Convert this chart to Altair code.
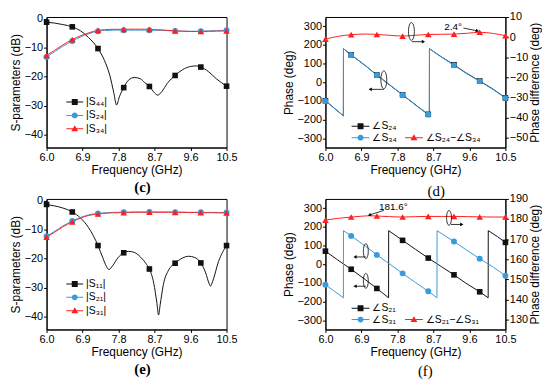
import math
import altair as alt
import pandas as pd

# ---------------- data ----------------
MARKER_FREQS = [6.0, 6.643, 7.286, 7.929, 8.571, 9.214, 9.857, 10.5]
X_TICKS = [6.0, 6.9, 7.8, 8.7, 9.6, 10.5]
DB_TICKS = [0, -10, -20, -30, -40]
PH_TICKS = [-300, -200, -100, 0, 100, 200, 300]
D_DIFF_TICKS = [10, 0, -10, -20, -30, -40, -50]
F_DIFF_TICKS = [190, 180, 170, 160, 150, 140, 130]

# panel (c)
C_NAMES = ["|S₄₄|", "|S₂₄|", "|S₃₄|"]
C_FREQ = [6.0, 6.2, 6.4, 6.643, 6.85, 7.05, 7.286, 7.45, 7.58, 7.68,
          7.75, 7.82, 7.929, 8.05, 8.2, 8.35, 8.45, 8.571, 8.7, 8.78,
          8.88, 9.02, 9.214, 9.4, 9.6, 9.75, 9.857, 10.05, 10.25, 10.5]
C_S44 = [-1.2, -1.5, -2.0, -2.8, -4.2, -6.5, -10.3, -14.5, -19.5, -25.5,
         -29.8, -27.0, -23.8, -21.2, -20.3, -20.8, -22.0, -23.4, -25.6, -26.4,
         -25.2, -22.3, -19.6, -17.6, -16.5, -16.3, -16.7, -18.3, -20.8, -23.3]
C_S24 = [-13.2, -11.4, -9.6, -7.7, -6.3, -5.2, -4.3, -4.05, -4.0, -3.95,
         -3.95, -3.95, -3.95, -3.95, -3.95, -3.95, -3.95, -3.95, -4.0, -4.0,
         -4.05, -4.1, -4.2, -4.3, -4.35, -4.35, -4.3, -4.2, -4.1, -4.0]
C_S34 = [-12.7, -10.9, -9.1, -7.2, -5.9, -4.9, -4.0, -3.8, -3.7, -3.65,
         -3.65, -3.65, -3.65, -3.6, -3.6, -3.6, -3.6, -3.7, -3.75, -3.8,
         -3.85, -4.0, -4.2, -4.3, -4.4, -4.4, -4.4, -4.35, -4.3, -4.2]

# panel (e)
E_NAMES = ["|S₁₁|", "|S₂₁|", "|S₃₁|"]
E_FREQ = [6.0, 6.2, 6.4, 6.643, 6.85, 7.05, 7.286, 7.4, 7.5, 7.56,
          7.65, 7.78, 7.929, 8.05, 8.2, 8.35, 8.5, 8.571, 8.68, 8.76,
          8.8, 8.84, 8.92, 9.05, 9.214, 9.4, 9.55, 9.7, 9.857, 9.98,
          10.06, 10.1, 10.15, 10.3, 10.5]
E_S11 = [-1.3, -1.8, -2.5, -3.9, -6.0, -9.3, -15.5, -19.5, -22.8, -23.8,
         -22.5, -19.8, -18.0, -17.5, -17.9, -19.5, -22.0, -23.6, -28.5, -35.5,
         -39.5, -36.0, -29.0, -24.0, -21.6, -19.8, -19.2, -19.6, -21.5, -25.0,
         -28.5, -29.5, -28.0, -21.0, -15.5]
E_S21 = [-12.3, -10.6, -8.8, -7.0, -5.8, -4.9, -4.4, -4.25, -4.15, -4.1,
         -4.05, -4.0, -3.95, -3.95, -3.9, -3.9, -3.9, -3.9, -3.9, -3.9,
         -3.9, -3.9, -3.9, -3.9, -3.95, -3.95, -4.0, -4.0, -4.0, -4.05,
         -4.05, -4.05, -4.05, -4.1, -4.1]
E_S31 = [-12.6, -10.9, -9.1, -7.3, -6.0, -5.1, -4.6, -4.4, -4.3, -4.25,
         -4.2, -4.15, -4.1, -4.05, -4.0, -4.0, -4.0, -4.0, -4.0, -4.0,
         -4.0, -4.0, -4.0, -4.0, -4.05, -4.05, -4.1, -4.1, -4.1, -4.15,
         -4.15, -4.15, -4.15, -4.2, -4.2]

# panel (d)
D_NAMES = ["∠S₂₄", "∠S₃₄"]
D_DIFF_NAME = ["∠S₂₄−∠S₃₄"]
D_PH_FREQ = [6.0, 6.2, 6.449, 6.451, 6.643, 7.0, 7.286, 7.6, 7.929, 8.3,
             8.571, 8.599, 8.601, 8.9, 9.214, 9.5, 9.857, 10.2, 10.5]
D_S24 = [-99, -135, -180, 180, 147, 89, 39, -13, -67, -129,
         -172, -180, 180, 136, 94, 52, 7, -38, -84]
D_S34 = [-100, -136, -180, 180, 146, 88, 38, -14, -68, -130,
         -173, -180, 180, 135, 92, 50, 5, -40, -85]
D_DIFF_FREQ = [6.0, 6.3, 6.643, 7.0, 7.286, 7.6, 7.929, 8.25, 8.571, 8.9,
               9.214, 9.55, 9.857, 10.2, 10.5]
D_DIFF = [-1.0, 0.3, 1.2, 1.5, 1.3, 0.9, 0.5, 0.9, 1.3, 1.4,
          1.5, 1.9, 2.4, 1.8, 0.7]

# panel (f)
F_NAMES = ["∠S₂₁", "∠S₃₁"]
F_DIFF_NAME = ["∠S₂₁−∠S₃₁"]
F_S21_FREQ = [6.0, 6.3, 6.643, 7.0, 7.286, 7.579, 7.581, 7.929, 8.25, 8.571,
              8.9, 9.214, 9.5, 9.857, 10.069, 10.071, 10.3, 10.5]
F_S21 = [70, 24, -27, -83, -130, -180, 180, 128, 80, 33,
         -13, -57, -100, -148, -180, 180, 148, 117]
F_S31_FREQ = [6.0, 6.2, 6.449, 6.451, 6.643, 7.0, 7.286, 7.6, 7.929, 8.25,
              8.571, 8.789, 8.791, 9.0, 9.214, 9.5, 9.857, 10.2, 10.5]
F_S31 = [-110, -141, -180, 180, 152, 97, 50, 2, -49, -98,
         -145, -180, 180, 151, 122, 80, 30, -16, -62]
F_DIFF_FREQ = [6.0, 6.3, 6.643, 6.9, 7.1, 7.286, 7.6, 7.929, 8.25, 8.571,
               8.9, 9.214, 9.55, 9.857, 10.2, 10.5]
F_DIFF = [179.5, 180.3, 181.0, 181.4, 181.6, 181.5, 181.2, 181.0, 181.2, 181.3,
          181.3, 181.3, 181.2, 181.1, 181.0, 181.0]

# annotations (data units of each panel)
D_ELL_LEFT = {"f": [7.46], "y": [13]}
D_ELL_RIGHT = {"f": [8.15], "y": [2.8]}
D_ARROW_LEFT = [{"f": 7.46, "y": -38, "f2": 7.12, "y2": -38}]
D_ARROW_RIGHT = [{"f": 8.16, "y": -2.3, "f2": 8.45, "y2": -2.3},
                 {"f": 9.45, "y": 4.5, "f2": 9.80, "y2": 3.1}]
D_TEXT = {"f": [9.19], "y": [4.8], "text": ["2.4°"]}

F_ELL_LEFT = {"f": [7.01, 7.01], "y": [70, -89]}
F_ELL_RIGHT = {"f": [9.09], "y": [180.6]}
F_ARROW_LEFT = [{"f": 7.01, "y": 39, "f2": 6.74, "y2": 39},
                {"f": 7.01, "y": -118, "f2": 6.74, "y2": -118}]
F_ARROW_RIGHT = [{"f": 9.14, "y": 177.3, "f2": 9.41, "y2": 177.3},
                 {"f": 7.46, "y": 184.3, "f2": 7.10, "y2": 182.0}]
F_TEXT = {"f": [7.70], "y": [185.8], "text": ["181.6°"]}

# ---------------- styles ----------------
FONT = "Liberation Sans"
SERIF = "Liberation Serif"
BLACK = "#111111"
BLUE = "#3b9ad9"
RED = "#ff1f1f"
W, H = 182, 132
ELLIPSE = "M0,-1A0.33,1 0 1,1 0,1A0.33,1 0 1,1 0,-1Z"


def mk_df(freq, vals, name):
    d = pd.DataFrame({"f": freq, "y": vals, "s": name})
    d["mk"] = [any(abs(v - m) < 1e-6 for m in MARKER_FREQS) for v in freq]
    return d


def X():
    return alt.X("f:Q", scale=alt.Scale(domain=[6.0, 10.5], nice=False, zero=False),
                 axis=alt.Axis(values=X_TICKS, format=".1f", title="Frequency (GHz)"))


def Y(domain, axis):
    return alt.Y("y:Q", scale=alt.Scale(domain=domain, nice=False, zero=False), axis=axis)


def sym_path(kind, size, half_len_px, marker_px, lw_px=1.0):
    u = math.sqrt(size) / 2
    L = half_len_px / u
    t = lw_px / 2 / u
    m = marker_px / 2 / u
    f = lambda v: f"{v:.3f}"
    p = f"M{f(-L)},{f(-t)}H{f(L)}V{f(t)}H{f(-L)}Z"
    if kind == "square":
        p += f"M{f(-m)},{f(-m)}H{f(m)}V{f(m)}H{f(-m)}Z"
    elif kind == "circle":
        p += f"M{f(-m)},0A{f(m)},{f(m)} 0 1,1 {f(m)},0A{f(m)},{f(m)} 0 1,1 {f(-m)},0Z"
    else:
        p += f"M0,{f(-1.15 * m)}L{f(1.15 * m)},{f(0.85 * m)}H{f(-1.15 * m)}Z"
    return p


MSIZE = {"square": 32, "circle": 36, "triangle-up": 44}
PKIND = {"square": "square", "circle": "circle", "triangle-up": "triangle"}


def series_layers(dfs, colors, shapes, yenc, interp):
    lines = [alt.Chart(d).mark_line(color=c, strokeWidth=1.0, interpolate=interp)
             .encode(x=X(), y=yenc) for d, c in zip(dfs, colors)]
    marks = [alt.Chart(d[d["mk"]]).mark_point(shape=s, filled=True, color=c,
                                                size=MSIZE[s], opacity=1)
             .encode(x=X(), y=yenc) for d, c, s in zip(dfs, colors, shapes)]
    return lines, marks


def legend_layer(dfs, names, colors, shapes, yenc, lx, ly, size, half_len, rowpad):
    paths = [sym_path(PKIND[s], size, half_len, 6.0) for s in shapes]
    loff = max(half_len - math.sqrt(size) / 2, 0) + 3
    leg = alt.Legend(title=None, orient="none", legendX=lx, legendY=ly,
                     direction="vertical", symbolSize=size, rowPadding=rowpad,
                     labelOffset=loff, labelFont=FONT, labelFontSize=10.5,
                     labelColor="black", symbolStrokeWidth=0, symbolOpacity=1,
                     padding=0)
    d = pd.concat([x[x["mk"]] for x in dfs])
    return alt.Chart(d).mark_point(filled=True, opacity=0).encode(
        x=X(), y=yenc,
        color=alt.Color("s:N", scale=alt.Scale(domain=names, range=colors), legend=leg),
        shape=alt.Shape("s:N", scale=alt.Scale(domain=names, range=paths), legend=leg))


HEAD = {True: "triangle-right", False: "triangle-left"}


def ann_layers(ell, arrows, txt, yenc, ell_size):
    out = []
    if ell:
        out.append(alt.Chart(pd.DataFrame(ell)).mark_point(
            shape=ELLIPSE, size=ell_size, filled=False, color="black",
            strokeWidth=0.8, opacity=1).encode(x=X(), y=yenc))
    for a in arrows:
        seg = pd.DataFrame({"f": [a["f"]], "y": [a["y"]], "f2": [a["f2"]], "y2": [a["y2"]]})
        tip = pd.DataFrame({"f": [a["f2"]], "y": [a["y2"]]})
        right = a["f2"] > a["f"]
        ang = 0
        if a["y2"] != a["y"]:
            ang = 15 if right else 337
        out.append(alt.Chart(seg).mark_rule(color="black", strokeWidth=0.8)
                   .encode(x=X(), x2=alt.X2("f2"), y=yenc, y2=alt.Y2("y2")))
        out.append(alt.Chart(tip).mark_point(shape=HEAD[right], filled=True, color="black",
                                             size=14, opacity=1, angle=ang)
                   .encode(x=X(), y=yenc))
    if txt:
        out.append(alt.Chart(pd.DataFrame(txt)).mark_text(
            font=FONT, fontSize=10, color="black", align="center", baseline="middle")
            .encode(x=X(), y=yenc, text="text:N"))
    return out


def caption(text, bold, offset, dx):
    return alt.TitleParams(text=text, orient="bottom", anchor="middle", font=SERIF,
                           fontSize=15, fontWeight="bold" if bold else "normal",
                           color="black", offset=offset, dx=dx)


def s_panel(freq, vals, names, title):
    yenc = Y([-44.5, 0.6], alt.Axis(values=DB_TICKS, title="S-parameters (dB)"))
    colors = [BLACK, BLUE, RED]
    shapes = ["square", "circle", "triangle-up"]
    dfs = [mk_df(freq, v, n) for v, n in zip(vals, names)]
    lines, marks = series_layers(dfs, colors, shapes, yenc, "monotone")
    leg = legend_layer(dfs, names, colors, shapes, yenc, 21.5, H - 53, 196, 8.5, 0.5)
    return alt.layer(*lines, *marks, leg).properties(width=W, height=H, title=title)


def dual_panel(ph, names, diff, diff_name, rdomain, rticks, annL, annR, ell_size, title):
    yL = Y([-350, 350], alt.Axis(values=PH_TICKS, title="Phase (deg)", orient="left"))
    yR = Y(rdomain, alt.Axis(values=rticks, title="Phase difference (deg)",
                             orient="right", titleAngle=270, titleBaseline="top"))
    dfsL = [mk_df(fq, v, n) for (fq, v), n in zip(ph, names)]
    linesL, marksL = series_layers(dfsL, [BLACK, BLUE], ["square", "circle"], yL, "linear")
    legL = legend_layer(dfsL, names, [BLACK, BLUE], ["square", "circle"], yL,
                        30, H - 27, 121, 9, 0.5)
    dfR = [mk_df(diff[0], diff[1], diff_name[0])]
    linesR, marksR = series_layers(dfR, [RED], ["triangle-up"], yR, "monotone")
    legR = legend_layer(dfR, diff_name, [RED], ["triangle-up"], yR,
                        84, H - 15.5, 121, 9, 0.5)
    left = alt.layer(*linesL, *marksL, *ann_layers(*annL, yL, ell_size), legL)
    right = alt.layer(*linesR, *marksR, *ann_layers(*annR, yR, ell_size), legR)
    return (alt.layer(left, right)
            .resolve_scale(y="independent", color="independent", shape="independent")
            .properties(width=W, height=H, title=title))


c = s_panel(C_FREQ, [C_S44, C_S24, C_S34], C_NAMES, caption("(c)", True, 5, 6))
e = s_panel(E_FREQ, [E_S11, E_S21, E_S31], E_NAMES, caption("(e)", True, 5, 6))
d = dual_panel([(D_PH_FREQ, D_S24), (D_PH_FREQ, D_S34)], D_NAMES,
               (D_DIFF_FREQ, D_DIFF), D_DIFF_NAME, [-55, 10], D_DIFF_TICKS,
               (D_ELL_LEFT, D_ARROW_LEFT, None), (D_ELL_RIGHT, D_ARROW_RIGHT, D_TEXT),
               324, caption("(d)", False, 9, 21))
f = dual_panel([(F_S21_FREQ, F_S21), (F_S31_FREQ, F_S31)], F_NAMES,
               (F_DIFF_FREQ, F_DIFF), F_DIFF_NAME, [125, 190], F_DIFF_TICKS,
               (F_ELL_LEFT, F_ARROW_LEFT, None), (F_ELL_RIGHT, F_ARROW_RIGHT, F_TEXT),
               225, caption("(f)", False, 7, 10))

chart = (alt.concat(c, d, e, f, columns=2, spacing={"row": 52, "column": 100},
                    bounds="flush", padding=0, background="white")
         .resolve_scale(color="independent", shape="independent")
         .configure_view(stroke="black", strokeWidth=1)
         .configure_axis(labelFont=FONT, titleFont=FONT, labelFontSize=11, titleFontSize=12,
                         titleFontWeight="normal", labelColor="black", titleColor="black",
                         domainColor="black", tickColor="black", tickSize=3,
                         labelPadding=1, titlePadding=2, grid=False, labelFlush=False,
                         labelOverlap=False))

chart.save("out.html", embed_options={"renderer": "svg", "actions": False})
